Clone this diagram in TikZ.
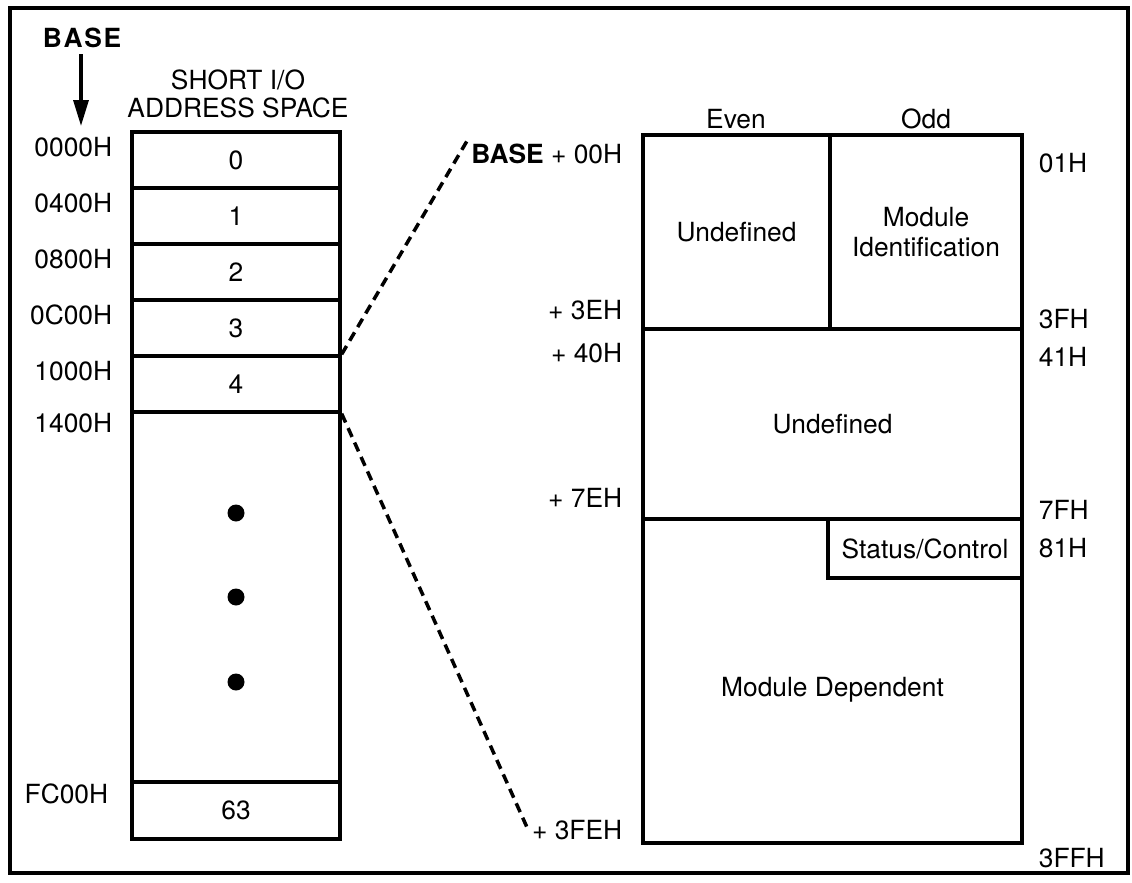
\documentclass[tikz,border=0pt]{standalone}
\usepackage{fontspec}
\setmainfont{TeX Gyre Heros}
\usetikzlibrary{positioning,arrows.meta}

\begin{document}
\begin{tikzpicture}[
  x=0.02cm, y=-0.02cm,
  font=\fontsize{15}{15.5}\selectfont,
  >={Triangle[length=0.52cm,width=0.3cm]},
  slot/.style={draw=black, line width=1.9pt, minimum width=4.16cm, minimum height=1.12cm, inner sep=0pt},
  area/.style={draw=black, line width=1.9pt, inner sep=0pt},
  addr/.style={anchor=east, inner sep=2pt},
  offs/.style={anchor=west, inner sep=2pt},
  dotmark/.style={circle, fill=black, minimum size=0.34cm, inner sep=0pt},
  zoomline/.style={draw=black, line width=2pt, dash pattern=on 5.5pt off 3.5pt}
]
  \useasboundingbox (0,0) rectangle (1132,882);
  \draw[line width=1.9pt] (10,8) rectangle (1128,873);

  \node[font=\fontsize{15}{15.5}\selectfont\bfseries] (base) at (82,38) {B\kern1pt A\kern1pt S\kern1pt E};
  \coordinate (basetip) at (81,126);
  \draw[->, line width=1.9pt] (base.south -| basetip) -- (basetip);
  \node[align=center] (head) at (238,94) {SHORT I/O\\ADDRESS SPACE};

  \foreach \i/\a in {0/0000H,1/0400H,2/0800H,3/0C00H,4/1000H} {
    \node[slot] (s\i) at (236,{160+56*\i}) {\i};
    \node[addr] (a\i) at (116,{147+56*\i}) {\a};
  }
  \node[slot, minimum height=7.4cm] (srest) at (236,597) {};
  \node[addr] (a5) at (116,423) {1400H};
  \foreach \y [count=\k] in {513,597,682}
    \node[dotmark] (d\k) at (236,\y) {};
  \node[slot, minimum height=1.14cm] (s63) at (236,810.5) {63};
  \node[addr] (a63) at (112,794) {FC00H};

  \node (even) at (736,119) {Even};
  \node (odd) at (926,119) {Odd};
  \node[area, minimum width=3.74cm, minimum height=3.88cm] (undefa) at (736.5,232) {Undefined};
  \node[area, minimum width=3.84cm, minimum height=3.88cm, align=center] (modid) at (926,232) {Module\\[2pt]Identification};
  \node[area, minimum width=7.58cm, minimum height=3.8cm] (undefb) at (832.5,424) {Undefined};
  \node[area, minimum width=7.58cm, minimum height=6.48cm] (modbox) at (832.5,681) {};
  \node (moddep) at (832.5,690) {Module Dependent};
  \node[area, minimum width=3.88cm, minimum height=1.18cm] (stat) at (925,548.5) {Status/Control};

  \node[addr] (b00) at (626,154) {\textbf{BASE} + 00H};
  \node[addr] (o3e) at (626,310) {+ 3EH};
  \node[addr] (o40) at (626,353) {+ 40H};
  \node[addr] (o7e) at (626,498) {+ 7EH};
  \node[addr] (o3fe) at (626,830) {+ 3FEH};
  \node[offs] (r01) at (1035,163) {01H};
  \node[offs] (r3f) at (1035,319) {3FH};
  \node[offs] (r41) at (1035,357) {41H};
  \node[offs] (r7f) at (1035,510) {7FH};
  \node[offs] (r81) at (1035,548) {81H};
  \node[offs] (r3ff) at (1035,858) {3FFH};

  \draw[zoomline] (s4.north east) -- (b00.north west);
  \draw[zoomline] (s4.south east) -- (o3fe.west);
\end{tikzpicture}
\end{document}
